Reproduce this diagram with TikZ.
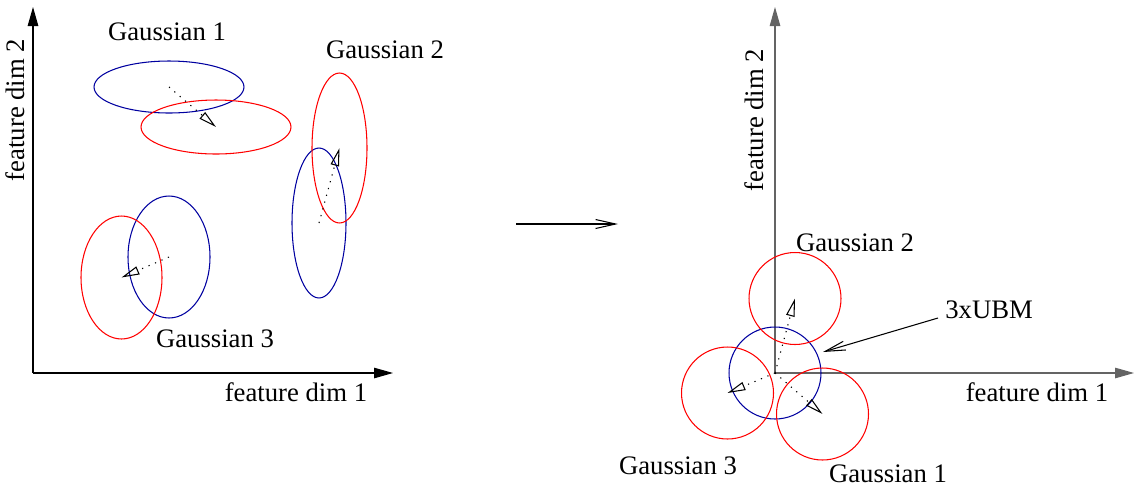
\documentclass[tikz,border=0pt]{standalone}
\usepackage{fontspec}
\setmainfont{Liberation Serif}
\usetikzlibrary{arrows.meta,shapes.geometric}
\definecolor{mapred}{RGB}{255,0,0}
\definecolor{ubmblue}{RGB}{0,0,160}
\definecolor{axisgray}{RGB}{100,100,100}
\begin{document}
\begin{tikzpicture}[
        x=0.02cm, y=-0.02cm,
        axis/.style={-{Triangle[length=0.38cm,width=0.21cm]}, line width=0.6pt},
        ubm/.style={draw=ubmblue, line width=0.6pt, inner sep=0pt},
        adapted/.style={draw=mapred, line width=0.6pt, inner sep=0pt},
        meanshift/.style={-{Triangle[open,length=0.36cm,width=0.17cm]}, line width=0.6pt, dash pattern=on 0.7pt off 3.3pt},
        pointer/.style={-{Straight Barb[length=0.4cm,width=0.18cm]}, line width=0.6pt},
        lab/.style={font=\fontsize{15.2}{18}\selectfont, inner sep=0pt}
    ]
        \useasboundingbox (0,0) rectangle (1136,488);

        % Axes (before adaptation)
        \coordinate (o1) at (33,373);
        \coordinate (x1) at (393,373);
        \coordinate (y1) at (33,7);
        \draw[axis] (o1) -- (x1);
        \draw[axis] (o1) -- (y1);
        \node[lab, anchor=base] (x1lab) at (296,401) {feature dim 1};
        \node[lab, anchor=base, rotate=90] (y1lab) at (25,110) {feature dim 2};

        % Gaussian 1
        \node[ubm, ellipse, minimum width=3cm, minimum height=1.04cm] (g1ubm) at (169,87) {};
        \node[adapted, ellipse, minimum width=3cm, minimum height=1.08cm] (g1map) at (216,127) {};
        \draw[meanshift] (g1ubm.center) -- (g1map.center);
        \node[lab, anchor=base] (g1lab) at (167,40) {Gaussian 1};

        % Gaussian 2
        \node[ubm, ellipse, minimum width=1.08cm, minimum height=3cm] (g2ubm) at (319,223) {};
        \node[adapted, ellipse, minimum width=1.1cm, minimum height=3cm] (g2map) at (339.5,148) {};
        \draw[meanshift] (g2ubm.center) -- (g2map.center);
        \node[lab, anchor=base] (g2lab) at (385,58) {Gaussian 2};

        % Gaussian 3
        \node[ubm, ellipse, minimum width=1.64cm, minimum height=2.44cm] (g3ubm) at (169,257) {};
        \node[adapted, ellipse, minimum width=1.62cm, minimum height=2.46cm] (g3map) at (121.5,277.5) {};
        \draw[meanshift] (g3ubm.center) -- (g3map.center);
        \node[lab, anchor=base] (g3lab) at (215,347) {Gaussian 3};

        % Mapping
        \coordinate (mapfrom) at (516,224);
        \coordinate (mapto) at (618,224);
        \draw[pointer] (mapfrom) -- (mapto);

        % Axes (after adaptation)
        \coordinate (o2) at (775,373);
        \coordinate (x2) at (1134,373);
        \coordinate (y2) at (775,7);
        \draw[axis, axisgray] (o2) -- (x2);
        \draw[axis, axisgray] (o2) -- (y2);
        \node[lab, anchor=base] (x2lab) at (1037,401) {feature dim 1};
        \node[lab, anchor=base, rotate=90] (y2lab) at (763,120) {feature dim 2};

        % UBM and shifted components
        \node[ubm, circle, minimum size=1.84cm] (ubm) at (775,373) {};
        \node[adapted, circle, minimum size=1.84cm] (c2) at (795,298.5) {};
        \node[adapted, circle, minimum size=1.84cm] (c3) at (727.5,393) {};
        \node[adapted, circle, minimum size=1.84cm] (c1) at (822.5,414) {};
        \draw[meanshift] (ubm.center) -- (c2.center);
        \draw[meanshift] (ubm.center) -- (c3.center);
        \draw[meanshift] (ubm.center) -- (c1.center);
        \node[lab, anchor=base] (c2lab) at (855,251) {Gaussian 2};
        \node[lab, anchor=base] (c3lab) at (678,474) {Gaussian 3};
        \node[lab, anchor=base] (c1lab) at (888,482) {Gaussian 1};

        % UBM label
        \node[lab, anchor=base west, inner xsep=0.14cm] (ubmlab) at (938,318) {3xUBM};
        \coordinate (ubmtip) at (823,352);
        \draw[pointer] (ubmlab.base west) -- (ubmtip);

    \end{tikzpicture}
\end{document}
